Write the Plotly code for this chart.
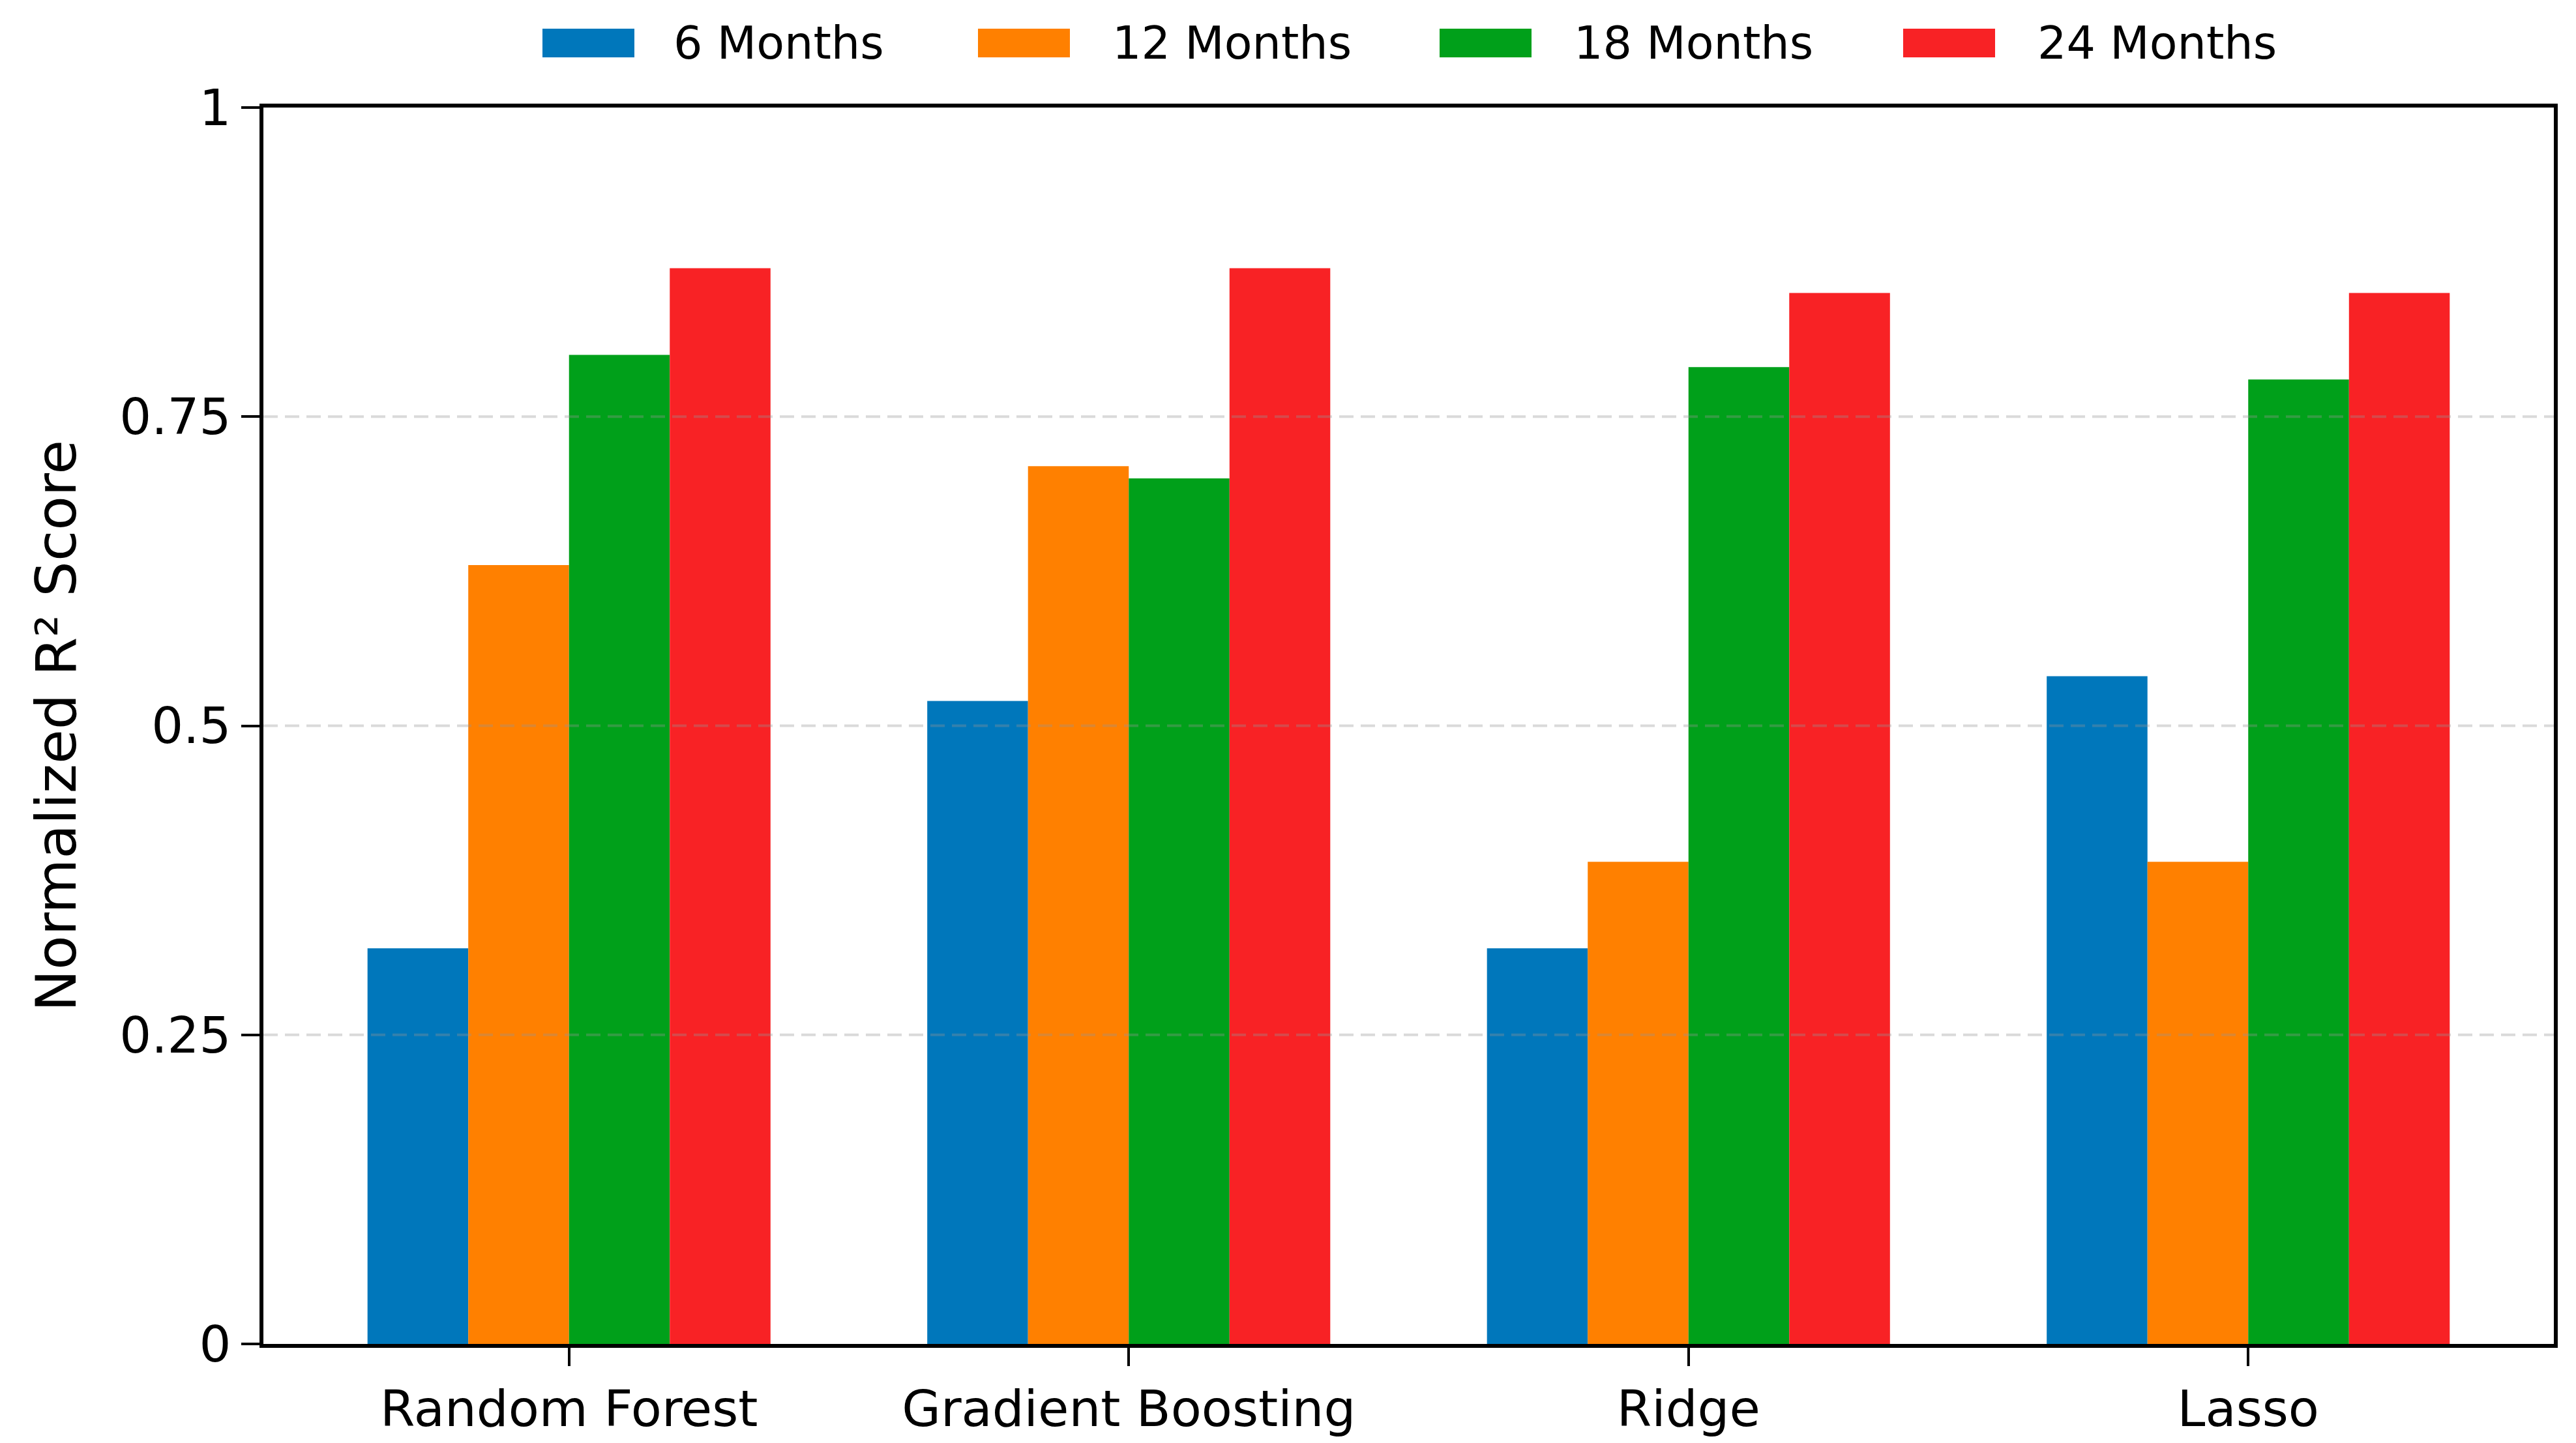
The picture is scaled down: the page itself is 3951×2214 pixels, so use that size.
import plotly.graph_objects as go

models = ["Random Forest", "Gradient Boosting", "Ridge", "Lasso"]
horizons = ["6 Months", "12 Months", "18 Months", "24 Months"]
scores_6m = [0.32, 0.52, 0.32, 0.54]
scores_12m = [0.63, 0.71, 0.39, 0.39]
scores_18m = [0.80, 0.70, 0.79, 0.78]
scores_24m = [0.87, 0.87, 0.85, 0.85]
colors = ["#0077BB", "#FF8000", "#00A01A", "#F82225"]
ytick_vals = [0, 0.25, 0.5, 0.75, 1]
ytick_text = ["0", "0.25", "0.5", "0.75", "1"]

series = [scores_6m, scores_12m, scores_18m, scores_24m]

W, H = 3951, 2214
ML, MR, MT, MB = 396, 42, 157, 160
PW, PH = W - ML - MR, H - MT - MB

def px_x(X):
    return (X - ML) / PW

def px_y(Y):
    return (H - MB - Y) / PH

fig = go.Figure()
for name, vals, col in zip(horizons, series, colors):
    fig.add_trace(go.Bar(x=models, y=vals, name=name, marker=dict(color=col, line=dict(width=0)),
                         showlegend=False))

FONT = "DejaVu Sans"
shapes = []
for v in ytick_vals[1:-1]:
    shapes.append(dict(type="line", xref="paper", yref="y", x0=0, x1=1, y0=v, y1=v,
                       line=dict(color="rgba(150,150,150,0.35)", width=4, dash="22px,11px"),
                       layer="above"))

# legend (drawn as layout items, matching the reference's wide swatches)
swatch_x0 = [824, 1492, 2200, 2911]
text_x0 = [1023, 1696, 2404, 3115]
sw_w, sw_h, leg_cy = 141, 44, 58
annotations = []
for name, col, sx, tx in zip(horizons, colors, swatch_x0, text_x0):
    shapes.append(dict(type="rect", xref="paper", yref="paper",
                       x0=px_x(sx), x1=px_x(sx + sw_w),
                       y0=px_y(leg_cy + sw_h / 2), y1=px_y(leg_cy - sw_h / 2),
                       fillcolor=col, line=dict(width=0), layer="above"))
    annotations.append(dict(text=name, xref="paper", yref="paper", x=px_x(tx), y=px_y(leg_cy),
                            xanchor="left", yanchor="middle", showarrow=False,
                            font=dict(size=70, family=FONT, color="black")))

fig.update_layout(
    width=W, height=H,
    paper_bgcolor="white", plot_bgcolor="white",
    font=dict(family=FONT, color="black", size=77),
    barmode="group", bargap=0.28, bargroupgap=0,
    margin=dict(l=ML, r=MR, t=MT, b=MB, autoexpand=False),
    showlegend=False,
    shapes=shapes,
    annotations=annotations,
)
fig.update_xaxes(range=[-0.546, 3.546], showline=True, linecolor="black", linewidth=6, mirror=True,
                 ticks="outside", ticklen=28, tickwidth=4, tickcolor="black",
                 tickfont=dict(size=77, family=FONT), showgrid=False, automargin=False)
fig.update_yaxes(range=[0, 1], tickvals=ytick_vals, ticktext=ytick_text,
                 showline=True, linecolor="black", linewidth=6, mirror=True,
                 ticks="outside", ticklen=28, tickwidth=4, tickcolor="black",
                 tickfont=dict(size=77, family=FONT), showgrid=False, zeroline=False,
                 title=dict(text="Normalized R² Score", font=dict(size=86, family=FONT), standoff=40),
                 automargin=False)

fig.write_html("out.html")
